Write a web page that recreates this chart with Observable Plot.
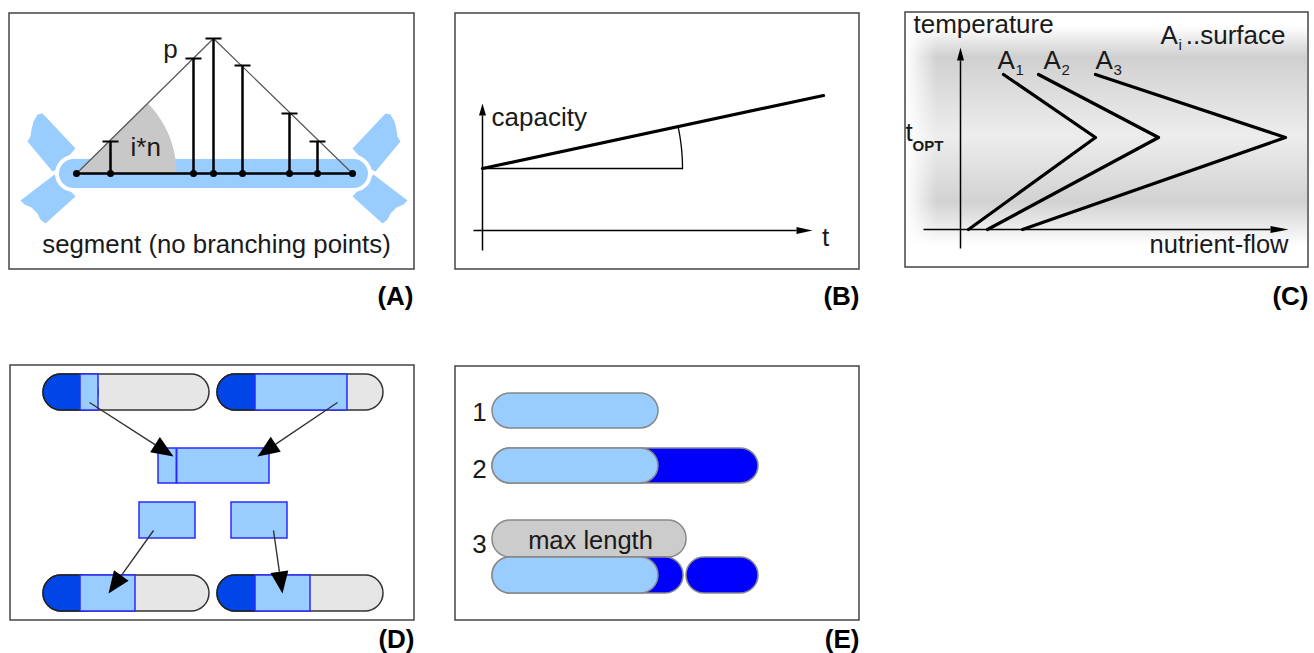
<!DOCTYPE html>
<html><head><meta charset="utf-8">
<script src="https://cdn.jsdelivr.net/npm/d3@7"></script>
<script src="https://cdn.jsdelivr.net/npm/@observablehq/plot@0.6"></script>
<style>html,body{margin:0;padding:0;background:#fff;} #chart{width:1314px;height:653px;}</style>
</head><body><div id="chart"></div>
<script>
// ---------- DATA (diagram geometry, in figure units) ----------
const panelLabels = ["(A)", "(B)", "(C)", "(D)", "(E)"];
const panelLabelX = [413, 859, 1308, 414, 859];
const panelLabelY = [304, 304, 304, 647, 647];
const frameX1 = [9, 455, 905, 10, 455];
const frameX2 = [414, 859, 1308, 414, 859];
const frameY1 = [13, 13, 12, 365, 366];
const frameY2 = [269, 269, 267, 620, 620];

// Panel A: segment with stops and profile heights
const segStops = [76, 110, 193, 213, 242, 289, 317, 352];
const segTops  = [173, 141, 58, 38, 65, 113, 141, 173];
const segLevel = 173;
const segProfile = [[76, 173], [213, 38], [352, 173]];
const segCapsule = {x1: 57, x2: 370, y1: 157, y2: 190};
const wingShapes = [
  {id: "lu", pts: [[27,141],[30,136],[31,129],[33,121],[37,114],[42,113],[75,148],[56,169],[52,171]]},
  {id: "ll", pts: [[54,174],[75,196],[45,223],[40,219],[37,213],[31,207],[24,204],[20,200]]},
  {id: "ru", pts: [[400,141],[397,136],[396,129],[394,121],[390,114],[385,113],[352,148],[371,169],[375,171]]},
  {id: "rl", pts: [[373,174],[352,196],[382,223],[387,219],[390,213],[396,207],[403,204],[407,200]]}
];
const sectorAngleDeg = 44.6, sectorRadius = 100;

// Panel B: capacity over time
const bYAxis = [[482, 250], [482, 103]];
const bXAxis = [[473, 230], [812, 230]];
const capacityLine = [[482, 168], [823, 95]];
const capacityBase = [[482, 168], [682, 168]];
const capacityArcRadius = 200;

// Panel C: temperature vs nutrient-flow for surfaces A1..A3
const cYAxis = [[960, 248], [960, 47]];
const cXAxis = [[923, 229], [1288, 229]];
const surfaceNames = ["A1", "A2", "A3"];
const surfaceCurves = [
  [[1003, 74], [1095, 137], [968, 229]],
  [[1038, 74], [1158, 137], [987, 229]],
  [[1095, 74], [1285, 137], [1022, 229]]
];
const surfaceLabelX = [997, 1043, 1095];

// Panel D: chromosomes (x1, x2, y1, y2, dark end, light segment)
const chromX1 = [43, 217, 43, 217];
const chromX2 = [209, 383, 209, 383];
const chromY1 = [374, 374, 575, 575];
const chromY2 = [410, 410, 611, 611];
const chromLightStart = [80, 255, 80, 255];
const chromLightEnd = [98, 347, 135, 310];
const fragX1 = [158, 139, 231];
const fragX2 = [269, 195, 287];
const fragY1 = [448, 502, 502];
const fragY2 = [483, 538, 538];
const fragDivider = 176;
const transferFrom = [[89, 402], [337, 402], [153, 530], [273, 530]];
const transferTo   = [[173, 456], [257, 456], [108, 593], [282, 593]];

// Panel E: growth stages
const stageNames = ["1", "2", "3"];
const stageLabelY = [420, 477, 552];
const cellsX1 = [492, 492, 492, 492, 686, 492];
const cellsX2 = [658, 758, 658, 683, 758, 658];
const cellsY1 = [393, 448, 448, 557, 557, 557];
const cellsY2 = [428, 483, 483, 593, 593, 593];
const cellsKind = ["light", "dark", "light", "dark", "dark", "light"];
const maxLength = {x1: 492, x2: 686, y1: 520, y2: 557};

// ---------- helpers ----------
const FONT = "Liberation Sans, Arial, Helvetica, sans-serif";
const INK = "#1a1a1a";
function polyRows(shapes) {
  return shapes.flatMap(s => s.pts.map(([x, y]) => ({x, y, id: s.id})));
}
function arcPts(cx, cy, r, a0, a1, n = 40) {
  const out = [];
  for (let i = 0; i <= n; i++) {
    const a = a0 + (a1 - a0) * i / n;
    out.push([cx + r * Math.cos(a), cy - r * Math.sin(a)]);
  }
  return out;
}
function head(from, to, len, hw) {
  const dx = to[0] - from[0], dy = to[1] - from[1];
  const L = Math.hypot(dx, dy), ux = dx / L, uy = dy / L;
  const bx = to[0] - ux * len, by = to[1] - uy * len;
  return {base: [bx, by], tri: [to, [bx - uy * hw, by + ux * hw], [bx + uy * hw, by - ux * hw]]};
}
const seg = (pairs) => pairs.map(([x, y]) => ({x, y}));

// derived tables
const frames = panelLabels.map((l, i) => ({x1: frameX1[i], x2: frameX2[i], y1: frameY1[i], y2: frameY2[i]}));
const labels = panelLabels.map((l, i) => ({l, x: panelLabelX[i], y: panelLabelY[i]}));
const posts = segStops.map((x, i) => ({x, top: segTops[i]})).slice(1, -1);
const dots = segStops.map(x => ({x, y: segLevel}));
const sector = [[segProfile[0][0], segLevel], ...arcPts(segProfile[0][0], segLevel, sectorRadius, 0, sectorAngleDeg * Math.PI / 180)];
const capAngle = Math.atan2(capacityLine[0][1] - capacityLine[1][1], capacityLine[1][0] - capacityLine[0][0]);
const capArc = arcPts(capacityBase[0][0], capacityBase[0][1], capacityArcRadius, 0, capAngle, 20);

const axisHeads = [];
const axisLines = [];
[[bYAxis, 12, 3.5], [bXAxis, 16, 3.5], [cYAxis, 13, 3.5], [cXAxis, 18, 3.5]].forEach(([ax, len, hw], i) => {
  const h = head(ax[0], ax[1], len, hw);
  axisHeads.push({id: "ax" + i, pts: h.tri});
  axisLines.push({x1: ax[0][0], y1: ax[0][1], x2: h.base[0], y2: h.base[1]});
});
const arrowHeads = [], arrowLines = [];
transferFrom.forEach((f, i) => {
  const h = head(f, transferTo[i], 22, 9);
  arrowHeads.push({id: "tr" + i, pts: h.tri});
  arrowLines.push({x1: f[0], y1: f[1], x2: h.base[0], y2: h.base[1]});
});
const curves = surfaceCurves.flatMap((c, i) => c.map(([x, y]) => ({x, y, s: surfaceNames[i]})));
const chroms = chromX1.map((x1, i) => ({x1, x2: chromX2[i], y1: chromY1[i], y2: chromY2[i],
  ls: chromLightStart[i], le: chromLightEnd[i], r: (chromY2[i] - chromY1[i]) / 2}));
const cells = cellsX1.map((x1, i) => ({x1, x2: cellsX2[i], y1: cellsY1[i], y2: cellsY2[i], kind: cellsKind[i]}));

const txt = (data, o) => Plot.text(data, {fontFamily: FONT, fill: INK, lineAnchor: "bottom", ...o});

const svg = Plot.plot({
  width: 1314, height: 653,
  marginTop: 0, marginRight: 0, marginBottom: 0, marginLeft: 0,
  x: {domain: [0, 1314], range: [0, 1314], axis: null},
  y: {domain: [0, 653], range: [0, 653], axis: null},
  style: {background: "white"},
  marks: [
    // frames
    Plot.rect(frames, {x1: "x1", x2: "x2", y1: "y1", y2: "y2", fill: "white", stroke: "#444", strokeWidth: 1.5}),
    // panel C background
    Plot.rect([{x1: frameX1[2] + 1, x2: frameX2[2] - 1, y1: 26, y2: 246}], {x1: "x1", x2: "x2", y1: "y1", y2: "y2", fill: "url(#cgradV)"}),
    Plot.rect([{x1: frameX1[2] + 1, x2: frameX1[2] + 32, y1: 26, y2: 246}], {x1: "x1", x2: "x2", y1: "y1", y2: "y2", fill: "url(#cgradH)"}),

    // ---- Panel A ----
    Plot.line(polyRows(wingShapes), {x: "x", y: "y", z: "id", fill: "#99ccff", stroke: "none", curve: "linear-closed"}),
    Plot.rect([segCapsule], {x1: "x1", x2: "x2", y1: "y1", y2: "y2", fill: "#99ccff", stroke: "white", strokeWidth: 4, rx: 16.5}),
    Plot.line(seg(sector), {x: "x", y: "y", fill: "#c8c8c8", stroke: "none", curve: "linear-closed"}),
    Plot.line(seg(segProfile), {x: "x", y: "y", stroke: "#555", strokeWidth: 1.2}),
    Plot.link([{x1: segStops[0], x2: segStops[segStops.length - 1]}], {x1: "x1", x2: "x2", y1: segLevel, y2: segLevel, stroke: "black", strokeWidth: 2.5}),
    Plot.link(posts, {x1: "x", x2: "x", y1: segLevel, y2: "top", stroke: "black", strokeWidth: 2.5}),
    Plot.link(posts, {x1: d => d.x - 8, x2: d => d.x + 8, y1: "top", y2: "top", stroke: "black", strokeWidth: 2}),
    Plot.dot(dots, {x: "x", y: "y", r: 3.5, fill: "black", stroke: "none"}),
    txt([{t: "p", x: 170, y: 57}], {x: "x", y: "y", text: "t", fontSize: 26, textAnchor: "middle"}),
    txt([{t: "i*n", x: 130, y: 155}], {x: "x", y: "y", text: "t", fontSize: 26, textAnchor: "start"}),
    txt([{t: "segment (no branching points)", x: 216, y: 252}], {x: "x", y: "y", text: "t", fontSize: 25.8, textAnchor: "middle"}),

    // ---- Panel B ----
    Plot.link(axisLines, {x1: "x1", y1: "y1", x2: "x2", y2: "y2", stroke: "black", strokeWidth: 1.5}),
    Plot.line(polyRows(axisHeads), {x: "x", y: "y", z: "id", fill: "black", stroke: "none", curve: "linear-closed"}),
    Plot.line(seg(capacityBase), {x: "x", y: "y", stroke: "black", strokeWidth: 1.3}),
    Plot.line(seg(capArc), {x: "x", y: "y", stroke: "black", strokeWidth: 1.3}),
    Plot.line(seg(capacityLine), {x: "x", y: "y", stroke: "black", strokeWidth: 3.2}),
    txt([{t: "capacity", x: 491, y: 125}], {x: "x", y: "y", text: "t", fontSize: 26, textAnchor: "start"}),
    txt([{t: "t", x: 825, y: 245}], {x: "x", y: "y", text: "t", fontSize: 26, textAnchor: "middle"}),

    // ---- Panel C ----
    Plot.line(curves, {x: "x", y: "y", z: "s", stroke: "black", strokeWidth: 3.2}),
    txt([{t: "temperature", x: 913, y: 32}], {x: "x", y: "y", text: "t", fontSize: 26, textAnchor: "start"}),
    txt(surfaceNames.map((s, i) => ({t: "A", x: surfaceLabelX[i], y: 68})), {x: "x", y: "y", text: "t", fontSize: 26, textAnchor: "start"}),
    txt(surfaceNames.map((s, i) => ({t: s.slice(1), x: surfaceLabelX[i] + 18, y: 74})), {x: "x", y: "y", text: "t", fontSize: 15, textAnchor: "start"}),
    txt([{t: "A", x: 1160, y: 43}], {x: "x", y: "y", text: "t", fontSize: 26, textAnchor: "start"}),
    txt([{t: "i", x: 1178, y: 49}], {x: "x", y: "y", text: "t", fontSize: 15, textAnchor: "start"}),
    txt([{t: "..surface", x: 1285, y: 43}], {x: "x", y: "y", text: "t", fontSize: 26, textAnchor: "end"}),
    txt([{t: "t", x: 905, y: 140}], {x: "x", y: "y", text: "t", fontSize: 26, textAnchor: "start"}),
    txt([{t: "OPT", x: 912, y: 150}], {x: "x", y: "y", text: "t", fontSize: 15, textAnchor: "start", fontWeight: "bold"}),
    txt([{t: "nutrient-flow", x: 1288, y: 252}], {x: "x", y: "y", text: "t", fontSize: 25.5, textAnchor: "end"}),

    // ---- Panel D ----
    Plot.rect(chroms, {x1: "x1", x2: "x2", y1: "y1", y2: "y2", fill: "#e6e6e6", stroke: "#333", strokeWidth: 1.5, rx: 18}),
    Plot.rect(chroms, {x1: "x1", x2: d => d.ls + d.r, y1: "y1", y2: "y2", fill: "#0046e6", stroke: "#222", strokeWidth: 1.5, rx: 18}),
    Plot.rect(chroms, {x1: "ls", x2: "le", y1: "y1", y2: "y2", fill: "#99ccff", stroke: "#2a2aff", strokeWidth: 1.5}),
    Plot.rect(fragX1.map((x1, i) => ({x1, x2: fragX2[i], y1: fragY1[i], y2: fragY2[i]})), {x1: "x1", x2: "x2", y1: "y1", y2: "y2", fill: "#99ccff", stroke: "#2a2aff", strokeWidth: 1.5}),
    Plot.link([{x: fragDivider}], {x1: "x", x2: "x", y1: fragY1[0], y2: fragY2[0], stroke: "#2a2aff", strokeWidth: 2}),
    Plot.link(arrowLines, {x1: "x1", y1: "y1", x2: "x2", y2: "y2", stroke: "#333", strokeWidth: 1.4}),
    Plot.line(polyRows(arrowHeads), {x: "x", y: "y", z: "id", fill: "black", stroke: "none", curve: "linear-closed"}),

    // ---- Panel E ----
    Plot.rect([maxLength], {x1: "x1", x2: "x2", y1: "y1", y2: "y2", fill: "#cccccc", stroke: "#888", strokeWidth: 1.5, rx: 18}),
    Plot.rect(cells, {x1: "x1", x2: "x2", y1: "y1", y2: "y2", fill: d => d.kind === "light" ? "#99ccff" : "#0000ff", stroke: "#888", strokeWidth: 1.5, rx: 18}),
    txt([{t: "max length", x: 590, y: 548}], {x: "x", y: "y", text: "t", fontSize: 25.5, textAnchor: "middle"}),
    txt(stageNames.map((s, i) => ({t: s, x: 479, y: stageLabelY[i]})), {x: "x", y: "y", text: "t", fontSize: 26, textAnchor: "middle"}),

    // panel letters
    txt(labels, {x: "x", y: "y", text: "l", fontSize: 26, fontWeight: "bold", textAnchor: "end", fill: "black"})
  ]
});

// gradient definitions for panel C background
const defs = d3.select(svg).insert("defs", ":first-child");
const gv = defs.append("linearGradient").attr("id", "cgradV").attr("x1", 0).attr("y1", 0).attr("x2", 0).attr("y2", 1);
[[0, "#ffffff"], [0.14, "#d0d0d0"], [0.5, "#ededed"], [0.8, "#d2d2d2"], [1, "#ffffff"]].forEach(([o, c]) =>
  gv.append("stop").attr("offset", o).attr("stop-color", c));
const gh = defs.append("linearGradient").attr("id", "cgradH").attr("x1", 0).attr("y1", 0).attr("x2", 1).attr("y2", 0);
[[0, "#ffffff", 1], [1, "#ffffff", 0]].forEach(([o, c, a]) =>
  gh.append("stop").attr("offset", o).attr("stop-color", c).attr("stop-opacity", a));

document.getElementById("chart").appendChild(svg);
</script></body></html>
